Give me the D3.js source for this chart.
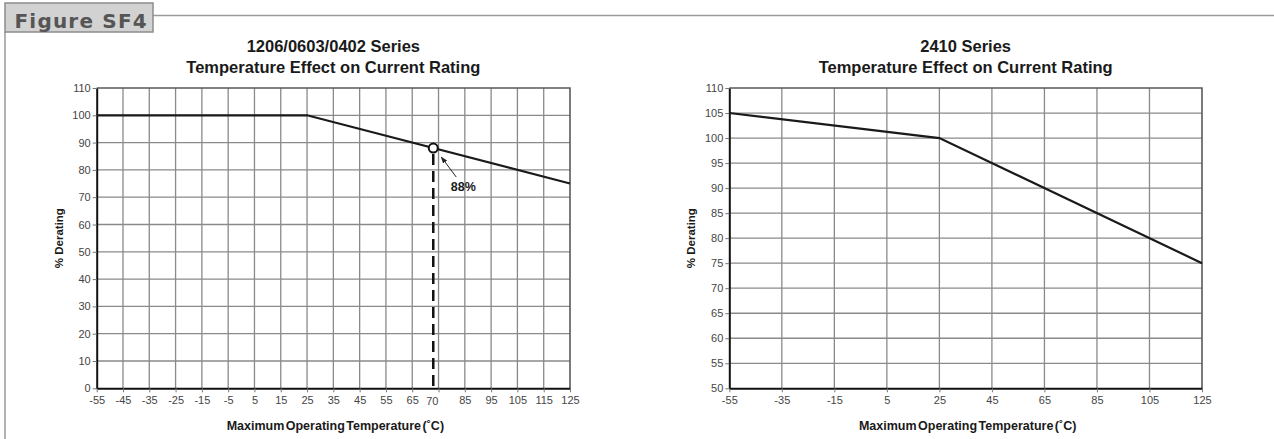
<!DOCTYPE html>
<html>
<head>
<meta charset="utf-8">
<script src="https://cdn.jsdelivr.net/npm/d3@7"></script>
<style>
  body { margin: 0; background: #fff; }
  text { font-family: "Liberation Sans", Arial, Helvetica, sans-serif; }
  .tick text { fill: #454545; font-size: 11px; }
  .tick line { stroke: #777; }
</style>
</head>
<body>
<div id="chart"></div>
<script>
// ---- data ----
var leftTemps = [-55, 25, 125];
var leftDerating = [100, 100, 75];
var leftXGrid = [-55, -45, -35, -25, -15, -5, 5, 15, 25, 35, 45, 55, 65, 75, 85, 95, 105, 115, 125];
var leftXLabels = ["-55", "-45", "-35", "-25", "-15", "-5", "5", "15", "25", "35", "45", "55", "65", "", "85", "95", "105", "115", "125"];
var leftYTicks = [0, 10, 20, 30, 40, 50, 60, 70, 80, 90, 100, 110];
var markerTemp = 73;       // where the dashed line sits on the grid
var markerValue = 88;
var markerTickLabel = "70";
var markerText = "88%";

var rightTemps = [-55, 25, 125];
var rightDerating = [105, 100, 75];
var rightXTicks = [-55, -35, -15, 5, 25, 45, 65, 85, 105, 125];
var rightYTicks = [50, 55, 60, 65, 70, 75, 80, 85, 90, 95, 100, 105, 110];

var leftTitle = ["1206/0603/0402 Series", "Temperature Effect on Current Rating"];
var rightTitle = ["2410 Series", "Temperature Effect on Current Rating"];
var xTitle = "Maximum Operating Temperature (˚C)";
var yTitle = "% Derating";

var width = 1274, height = 439;

var svg = d3.select("#chart").append("svg")
    .attr("width", width)
    .attr("height", height);

// arrow head for the 88% note
svg.append("defs").append("marker")
    .attr("id", "arrow")
    .attr("viewBox", "0 0 10 10")
    .attr("refX", 9).attr("refY", 5)
    .attr("markerWidth", 7).attr("markerHeight", 7)
    .attr("orient", "auto")
  .append("path")
    .attr("d", "M0,1.5 L10,5 L0,8.5 Z")
    .attr("fill", "#222");

// ---- figure frame ----
svg.append("line")
    .attr("x1", 153).attr("x2", width).attr("y1", 15.5).attr("y2", 15.5)
    .attr("stroke", "#9a9a9a").attr("stroke-width", 1.5);
svg.append("line")
    .attr("x1", 5).attr("x2", 5).attr("y1", 32).attr("y2", height)
    .attr("stroke", "#9a9a9a").attr("stroke-width", 1.5);
svg.append("rect")
    .attr("x", 5).attr("y", 3).attr("width", 148).attr("height", 29)
    .attr("fill", "#d2d2d2").attr("stroke", "#8c8c8c").attr("stroke-width", 1.5);
svg.append("text")
    .attr("x", 14.5).attr("y", 27.5)
    .style("font-family", "'DejaVu Sans', Verdana, sans-serif")
    .style("font-weight", "bold").style("font-size", "20px")
    .style("letter-spacing", "1.2px")
    .attr("fill", "#555")
    .text("Figure SF4");

// draws one panel and returns its scales
function drawPanel(opts) {
    var x = d3.scaleLinear().domain(opts.xDomain).range([opts.left, opts.right]);
    var y = d3.scaleLinear().domain(opts.yDomain).range([opts.bottom, opts.top]);
    var g = svg.append("g");
    var cx = (opts.left + opts.right) / 2;

    // titles
    g.selectAll(".title")
        .data(opts.title)
        .enter().append("text")
        .attr("x", cx)
        .attr("y", function(d, i) { return 51.5 + i * 21; })
        .attr("text-anchor", "middle")
        .style("font-weight", "bold").style("font-size", "16.5px")
        .attr("fill", "#1a1a1a")
        .text(function(d) { return d; });

    // grid
    g.append("g").selectAll("line")
        .data(opts.xGrid.slice(1, -1))
        .enter().append("line")
        .attr("x1", function(d) { return x(d); }).attr("x2", function(d) { return x(d); })
        .attr("y1", opts.top).attr("y2", opts.bottom)
        .attr("stroke", "#8a8a8a").attr("stroke-width", 1.3);
    g.append("g").selectAll("line")
        .data(opts.yTicks.slice(1, -1))
        .enter().append("line")
        .attr("x1", opts.left).attr("x2", opts.right)
        .attr("y1", function(d) { return y(d); }).attr("y2", function(d) { return y(d); })
        .attr("stroke", "#8a8a8a").attr("stroke-width", 1.3);

    // top / right border
    g.append("path")
        .attr("d", "M" + opts.left + "," + opts.top + "H" + opts.right + "V" + opts.bottom)
        .attr("fill", "none").attr("stroke", "#5a5a5a").attr("stroke-width", 1.6);

    // axes
    var xAxis = d3.axisBottom(x)
        .tickValues(opts.xGrid)
        .tickFormat(function(d, i) { return opts.xLabels ? opts.xLabels[i] : d; })
        .tickSize(4).tickSizeOuter(0).tickPadding(4);
    var gx = g.append("g")
        .attr("transform", "translate(0," + opts.bottom + ")")
        .call(xAxis);
    gx.select(".domain").attr("stroke", "#111").attr("stroke-width", 2);

    var yAxis = d3.axisLeft(y)
        .tickValues(opts.yTicks)
        .tickSize(4).tickSizeOuter(0).tickPadding(2);
    var gy = g.append("g")
        .attr("transform", "translate(" + opts.left + ",0)")
        .call(yAxis);
    gy.select(".domain").attr("stroke", "#111").attr("stroke-width", 2);

    // axis titles
    g.append("text")
        .attr("x", cx + 2).attr("y", 430)
        .attr("text-anchor", "middle")
        .style("font-weight", "bold").style("font-size", "12.5px")
        .style("word-spacing", "-2px")
        .attr("fill", "#1a1a1a")
        .text(xTitle);
    g.append("text")
        .attr("transform", "translate(" + (opts.left - 38) + "," + ((opts.top + opts.bottom) / 2) + ") rotate(-90)")
        .attr("dy", "0.35em")
        .attr("text-anchor", "middle")
        .style("font-weight", "bold").style("font-size", "11.5px")
        .attr("fill", "#1a1a1a")
        .text(yTitle);

    // curve
    var line = d3.line()
        .x(function(d) { return x(d[0]); })
        .y(function(d) { return y(d[1]); });
    g.append("path")
        .datum(d3.zip(opts.temps, opts.values))
        .attr("d", line)
        .attr("fill", "none")
        .attr("stroke", "#1a1a1a")
        .attr("stroke-width", 2.2);

    return { g: g, x: x, y: y };
}

var left = drawPanel({
    left: 96.7, right: 570, top: 88, bottom: 388.3,
    xDomain: [-55, 125], yDomain: [0, 110],
    xGrid: leftXGrid, xLabels: leftXLabels, yTicks: leftYTicks,
    temps: leftTemps, values: leftDerating, title: leftTitle
});

drawPanel({
    left: 729.3, right: 1202, top: 88, bottom: 388.3,
    xDomain: [-55, 125], yDomain: [50, 110],
    xGrid: rightXTicks, yTicks: rightYTicks,
    temps: rightTemps, values: rightDerating, title: rightTitle
});

// ---- 88% marker on the left panel ----
var mx = left.x(markerTemp), my = left.y(markerValue);

left.g.append("line")
    .attr("x1", mx).attr("x2", mx)
    .attr("y1", my + 6).attr("y2", left.y(0))
    .attr("stroke", "#111").attr("stroke-width", 2.5)
    .attr("stroke-dasharray", "11,6");

left.g.append("circle")
    .attr("cx", mx).attr("cy", my).attr("r", 4.5)
    .attr("fill", "#fff").attr("stroke", "#111").attr("stroke-width", 2);

left.g.append("line")
    .attr("x1", mx + 23).attr("y1", my + 29)
    .attr("x2", mx + 8).attr("y2", my + 9)
    .attr("stroke", "#222").attr("stroke-width", 1)
    .attr("marker-end", "url(#arrow)");

left.g.append("text")
    .attr("x", mx + 17.5).attr("y", my + 43)
    .style("font-weight", "bold").style("font-size", "12.5px")
    .attr("fill", "#1a1a1a")
    .text(markerText);

// tick label printed at the marker position
left.g.append("text")
    .attr("x", mx - 1).attr("y", left.y(0) + 16.2)
    .attr("text-anchor", "middle")
    .style("font-size", "11px")
    .attr("fill", "#454545")
    .text(markerTickLabel);
</script>
</body>
</html>
